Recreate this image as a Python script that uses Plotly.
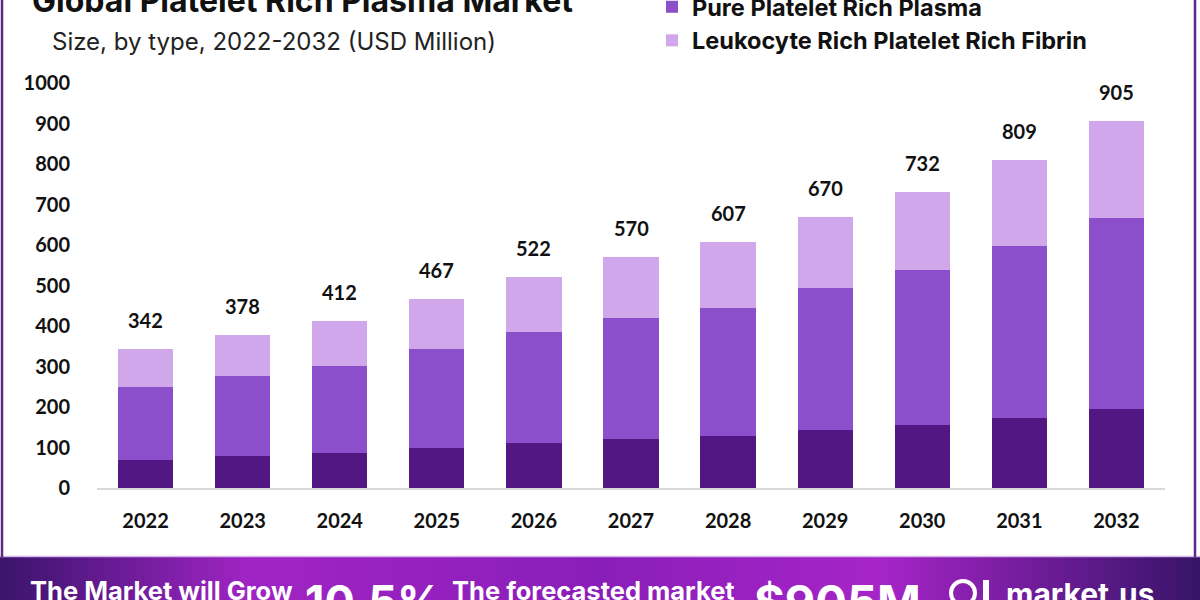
import plotly.graph_objects as go

years = ["2022", "2023", "2024", "2025", "2026", "2027", "2028", "2029", "2030", "2031", "2032"]
dark_vals = [70, 80, 87, 100, 112, 122, 129, 143, 156, 173, 194]
pure_prp = [180, 197, 214, 243, 273, 297, 316, 351, 382, 424, 473]
lprf = [92, 101, 111, 124, 137, 151, 162, 176, 194, 212, 238]
totals = [342, 378, 412, 467, 522, 570, 607, 670, 732, 809, 905]
y_ticks = [0, 100, 200, 300, 400, 500, 600, 700, 800, 900, 1000]

W, H = 1200, 600
L, R, T, B = 97, 35, 70, 112
PW, PH = W - L - R, H - T - B


def px(x):
    return (x - L) / PW


def py(y):
    return (H - B - y) / PH


C_DARK = "#521783"
C_MID = "#8b4fcc"
C_LIGHT = "#d0a7eb"
NUM_FONT = "Lato"
HEAD_FONT = "Inter"

fig = go.Figure()
fig.add_trace(go.Bar(x=years, y=dark_vals, name="Leukocyte Rich Platelet Rich Plasma",
                     marker=dict(color=C_DARK, line=dict(width=0)), showlegend=False))
fig.add_trace(go.Bar(x=years, y=pure_prp, name="<b>Pure Platelet Rich Plasma</b>",
                     marker=dict(color=C_MID, line=dict(width=0))))
fig.add_trace(go.Bar(x=years, y=lprf, name="<b>Leukocyte Rich Platelet Rich Fibrin</b>",
                     marker=dict(color=C_LIGHT, line=dict(width=0))))

annotations = []
for i, tot in enumerate(totals):
    annotations.append(dict(x=i, y=tot, xref="x", yref="y", text=f"<b>{tot}</b>",
                            showarrow=False, yanchor="bottom", yshift=15,
                            font=dict(family=NUM_FONT, size=20, color="#111111")))

# Title (cut off at top) and subtitle
annotations.append(dict(x=px(30), y=py(1), xref="paper", yref="paper", xanchor="left", yanchor="middle",
                        text="<b>Global Platelet Rich Plasma Market</b>", showarrow=False,
                        font=dict(family=HEAD_FONT, size=32, color="#111111")))
annotations.append(dict(x=px(50), y=py(41), xref="paper", yref="paper", xanchor="left", yanchor="middle",
                        text="Size, by type, 2022-2032 (USD Million)", showarrow=False,
                        font=dict(family=HEAD_FONT, size=24, color="#222222")))

# Banner texts
annotations.append(dict(x=px(28), y=py(590), xref="paper", yref="paper", xanchor="left", yanchor="middle",
                        text="<b>The Market will Grow</b>", showarrow=False,
                        font=dict(family=HEAD_FONT, size=25.5, color="white")))
annotations.append(dict(x=px(303), y=py(601), xref="paper", yref="paper", xanchor="left", yanchor="middle",
                        text="<b>10.5%</b>", showarrow=False,
                        font=dict(family=HEAD_FONT, size=45, color="white")))
annotations.append(dict(x=px(450), y=py(590), xref="paper", yref="paper", xanchor="left", yanchor="middle",
                        text="<b>The forecasted market</b>", showarrow=False,
                        font=dict(family=HEAD_FONT, size=25.5, color="white")))
annotations.append(dict(x=px(752), y=py(601), xref="paper", yref="paper", xanchor="left", yanchor="middle",
                        text="<b>$905M</b>", showarrow=False,
                        font=dict(family=HEAD_FONT, size=47, color="white")))
annotations.append(dict(x=px(1004), y=py(594), xref="paper", yref="paper", xanchor="left", yanchor="middle",
                        text="<b>market.us</b>", showarrow=False,
                        font=dict(family=HEAD_FONT, size=30, color="white")))

shapes = []
# gradient banner built from thin vertical strips
stops = [(0, (58, 20, 108)), (250, (160, 36, 196)), (600, (138, 30, 184)),
         (880, (166, 36, 200)), (1200, (55, 20, 104))]


def grad_color(x):
    for (x0, c0), (x1, c1) in zip(stops[:-1], stops[1:]):
        if x0 <= x <= x1:
            t = (x - x0) / (x1 - x0)
            return "rgb(%d,%d,%d)" % tuple(round(a + (b - a) * t) for a, b in zip(c0, c1))
    return "rgb(%d,%d,%d)" % stops[-1][1]


step = 8
for x0 in range(0, W, step):
    shapes.append(dict(type="rect", xref="paper", yref="paper", x0=px(x0), x1=px(x0 + step + 0.5),
                       y0=py(557), y1=py(601), fillcolor=grad_color(x0 + step / 2),
                       line=dict(width=0), layer="below"))
shapes.append(dict(type="line", xref="paper", yref="paper", x0=px(0), x1=px(W), y0=py(556.5), y1=py(556.5),
                   line=dict(color="#d7b7ea", width=1.5)))
# frame lines
shapes.append(dict(type="line", xref="paper", yref="paper", x0=px(2), x1=px(2), y0=py(0), y1=py(557),
                   line=dict(color="#5b2a86", width=2.5)))
shapes.append(dict(type="line", xref="paper", yref="paper", x0=px(1195), x1=px(1195), y0=py(0), y1=py(557),
                   line=dict(color="#5b2a86", width=2.5)))
# logo
shapes.append(dict(type="circle", xref="paper", yref="paper", x0=px(951), x1=px(975), y0=py(581), y1=py(605),
                   line=dict(color="white", width=4)))
shapes.append(dict(type="line", xref="paper", yref="paper", x0=px(986), x1=px(986), y0=py(580), y1=py(602),
                   line=dict(color="white", width=6)))

fig.update_layout(
    width=W, height=H,
    margin=dict(l=L, r=R, t=T, b=B, pad=0, autoexpand=False),
    paper_bgcolor="white", plot_bgcolor="white",
    barmode="stack", bargap=0.43,
    showlegend=True,
    legend=dict(x=px(652), y=py(-15), xanchor="left", yanchor="top", orientation="v",
                traceorder="normal", bgcolor="rgba(0,0,0,0)",
                font=dict(family=HEAD_FONT, size=23.5, color="#111111"),
                itemwidth=30, tracegroupgap=0),
    xaxis=dict(type="category", showgrid=False, showline=True, linecolor="#d9d9d9", linewidth=1.5,
               ticks="outside", ticklen=14, tickcolor="rgba(0,0,0,0)",
               tickfont=dict(family=NUM_FONT, size=20, color="#111111"),
               tickprefix="<b>", ticksuffix="</b>", range=[-0.5, 10.5]),
    yaxis=dict(range=[0, PH / 0.405], showgrid=False, zeroline=False, showline=False,
               tickvals=y_ticks, ticktext=[f"<b>{v}</b>" for v in y_ticks],
               ticks="outside", ticklen=22, tickcolor="rgba(0,0,0,0)",
               tickfont=dict(family=NUM_FONT, size=20, color="#111111")),
    annotations=annotations,
    shapes=shapes,
)

fig.write_html("out.html")
